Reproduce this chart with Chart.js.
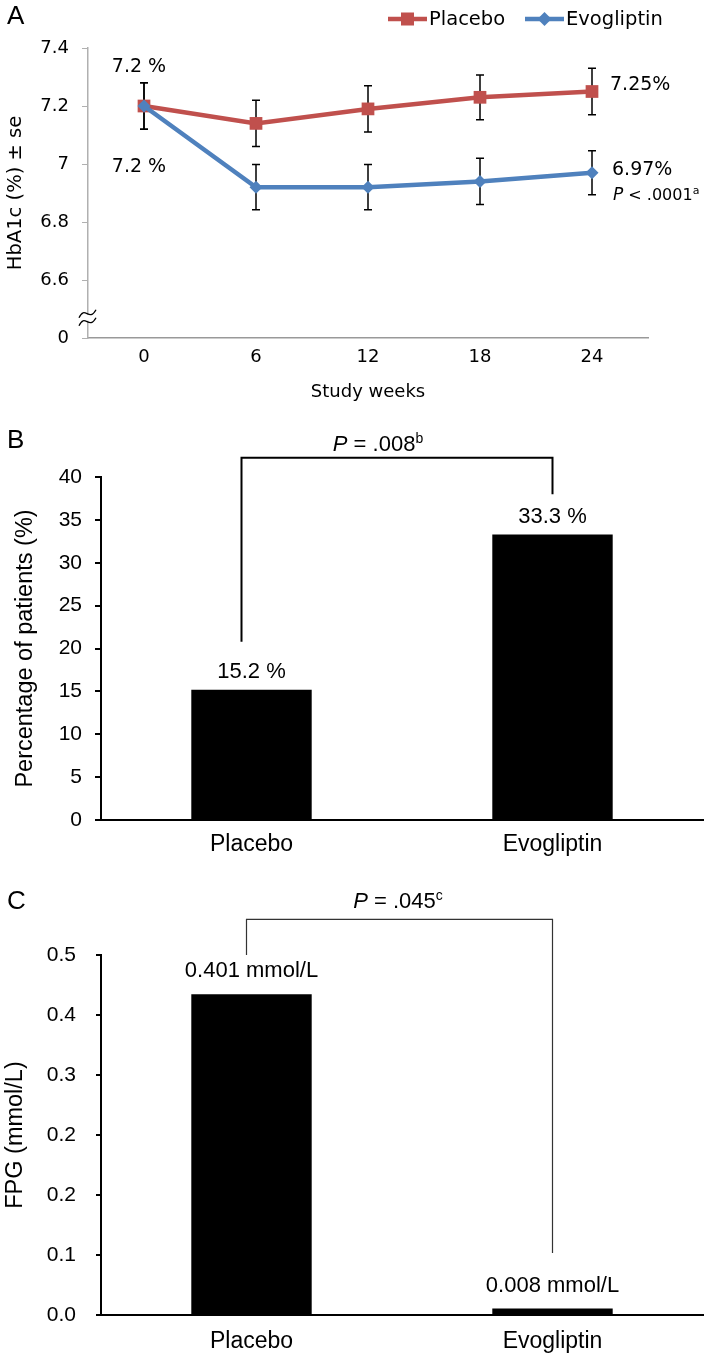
<!DOCTYPE html>
<html>
<head>
<meta charset="utf-8">
<script src="https://cdn.jsdelivr.net/npm/chart.js@4.4.0/dist/chart.umd.min.js"></script>
<style>
  html, body { margin: 0; padding: 0; background: #fff; }
  #wrap { position: relative; width: 709px; height: 1360px; }
  .panel { position: absolute; left: 0; width: 709px; }
</style>
</head>
<body>
<div id="wrap">
  <div class="panel" style="top:0;height:410px"><canvas id="chartA"></canvas></div>
  <div class="panel" style="top:410px;height:460px"><canvas id="chartB"></canvas></div>
  <div class="panel" style="top:870px;height:490px"><canvas id="chartC"></canvas></div>
</div>
<script>
// --- panel A: HbA1c over time
const weeks = ['0', '6', '12', '18', '24'];
const placeboHbA1c = [7.2, 7.14, 7.19, 7.23, 7.25];
const placeboSE = [0.08, 0.08, 0.08, 0.077, 0.08];
const evoHbA1c = [7.2, 6.92, 6.92, 6.94, 6.97];
const evoSE = [0.08, 0.078, 0.078, 0.08, 0.076];
const yTicksA = ['0', '6.6', '6.8', '7', '7.2', '7.4'];

// --- panel B: responders
const groups = ['Placebo', 'Evogliptin'];
const responderPct = [15.2, 33.3];
const responderLabels = ['15.2 %', '33.3 %'];

// --- panel C: FPG change
const fpgChange = [0.401, 0.008];
const fpgLabels = ['0.401 mmol/L', '0.008 mmol/L'];
const yTicksC = ['0.0', '0.1', '0.2', '0.2', '0.3', '0.4', '0.5'];

const red = '#C0504D';
const blue = '#4F81BD';
const fontA = '"DejaVu Sans", sans-serif';
const fontBC = '"Liberation Sans", Arial, sans-serif';

// draw a run of text pieces (for italic P and superscripts)
function drawRich(ctx, parts, x, y, align) {
  let w = 0;
  parts.forEach(p => { ctx.font = p.font; p.w = ctx.measureText(p.text).width; w += p.w; });
  let cx = align === 'center' ? x - w / 2 : x;
  ctx.textAlign = 'left';
  ctx.textBaseline = 'middle';
  parts.forEach(p => {
    ctx.font = p.font;
    ctx.fillText(p.text, cx, y + (p.dy || 0));
    cx += p.w;
  });
}

function panelLetter(ctx, letter, y) {
  ctx.save();
  ctx.fillStyle = '#000';
  ctx.font = '26px ' + fontBC;
  ctx.textAlign = 'left';
  ctx.textBaseline = 'middle';
  ctx.fillText(letter, 7, y);
  ctx.restore();
}

const panelAPlugin = {
  id: 'panelA',
  beforeDatasetsDraw(chart) {
    const ctx = chart.ctx, x = chart.scales.x, y = chart.scales.y;
    ctx.save();
    ctx.strokeStyle = '#000';
    ctx.lineWidth = 1.5;
    [[placeboHbA1c, placeboSE], [evoHbA1c, evoSE]].forEach(([vals, se]) => {
      vals.forEach((v, i) => {
        const px = x.getPixelForValue(i);
        const top = y.getPixelForValue(v + se[i]);
        const bot = y.getPixelForValue(v - se[i]);
        ctx.beginPath();
        ctx.moveTo(px, top); ctx.lineTo(px, bot);
        ctx.moveTo(px - 4, top); ctx.lineTo(px + 4, top);
        ctx.moveTo(px - 4, bot); ctx.lineTo(px + 4, bot);
        ctx.stroke();
      });
    });
    ctx.restore();
  },
  afterDraw(chart) {
    const ctx = chart.ctx, x = chart.scales.x, y = chart.scales.y;
    ctx.save();
    panelLetter(ctx, 'A', 17);

    // axis break
    const ax = chart.chartArea.left, yb = y.getPixelForValue(6.47);
    ctx.fillStyle = '#fff';
    ctx.fillRect(ax - 3, yb - 3, 6, 6);
    ctx.strokeStyle = '#000';
    ctx.lineWidth = 1.3;
    [-4, 4].forEach(d => {
      ctx.beginPath();
      ctx.moveTo(ax - 9, yb + d + 4);
      ctx.bezierCurveTo(ax - 3, yb + d - 9, ax + 1, yb + d + 9, ax + 8, yb + d - 4);
      ctx.stroke();
    });

    // legend
    const items = [
      { text: 'Placebo', color: red, diamond: false, x: 388 },
      { text: 'Evogliptin', color: blue, diamond: true, x: 525 }
    ];
    const ly = 19;
    items.forEach(it => {
      ctx.strokeStyle = it.color;
      ctx.fillStyle = it.color;
      ctx.lineWidth = 4.5;
      ctx.beginPath();
      ctx.moveTo(it.x, ly); ctx.lineTo(it.x + 39, ly);
      ctx.stroke();
      const mx = it.x + 19.5;
      if (it.diamond) {
        ctx.beginPath();
        ctx.moveTo(mx, ly - 7); ctx.lineTo(mx + 7, ly); ctx.lineTo(mx, ly + 7); ctx.lineTo(mx - 7, ly);
        ctx.closePath(); ctx.fill();
      } else {
        ctx.fillRect(mx - 6.5, ly - 6.5, 13, 13);
      }
      ctx.fillStyle = '#000';
      ctx.font = '19.5px ' + fontA;
      ctx.textAlign = 'left';
      ctx.textBaseline = 'middle';
      ctx.fillText(it.text, it.x + 41, ly + 1);
    });

    // value notes
    ctx.fillStyle = '#000';
    ctx.font = '19px ' + fontA;
    ctx.textBaseline = 'middle';
    ctx.textAlign = 'center';
    const x0 = x.getPixelForValue(0);
    ctx.fillText('7.2 %', x0 - 5, y.getPixelForValue(placeboHbA1c[0]) - 39);
    ctx.fillText('7.2 %', x0 - 5, y.getPixelForValue(evoHbA1c[0]) + 61);
    const xl = x.getPixelForValue(4) + 18;
    ctx.textAlign = 'left';
    ctx.fillText('7.25%', xl, y.getPixelForValue(placeboHbA1c[4]) - 6);
    ctx.fillText('6.97%', xl + 2, y.getPixelForValue(evoHbA1c[4]) - 3);
    drawRich(ctx, [
      { text: 'P', font: 'italic 17px ' + fontA },
      { text: ' < .0001', font: '16px ' + fontA },
      { text: 'a', font: '11px ' + fontA, dy: -5 }
    ], xl + 3, y.getPixelForValue(evoHbA1c[4]) + 23, 'left');
    ctx.restore();
  }
};

new Chart(document.getElementById('chartA'), {
  type: 'line',
  data: {
    labels: weeks,
    datasets: [
      {
        label: 'Placebo', data: placeboHbA1c, borderColor: red, backgroundColor: red,
        borderWidth: 4.5, pointStyle: 'rect', pointRadius: 9, pointBorderWidth: 0,
        tension: 0, order: 2
      },
      {
        label: 'Evogliptin', data: evoHbA1c, borderColor: blue, backgroundColor: blue,
        borderWidth: 4.5, pointStyle: 'rectRot', pointRadius: 6.5, pointBorderWidth: 0,
        tension: 0, order: 1
      }
    ]
  },
  options: {
    responsive: true,
    maintainAspectRatio: false,
    animation: false,
    layout: { padding: { top: 48, right: 61, left: 0, bottom: 0 } },
    plugins: { legend: { display: false }, tooltip: { enabled: false } },
    scales: {
      x: {
        offset: true,
        grid: { display: false, drawTicks: false },
        border: { color: '#999', width: 1.5 },
        ticks: { color: '#000', font: { family: fontA, size: 18 }, padding: 9 },
        title: {
          display: true, text: 'Study weeks', color: '#000',
          font: { family: fontA, size: 18 }, padding: { top: 0, bottom: 7 }
        },
        afterFit: s => { s.height = 72; }
      },
      y: {
        min: 6.4, max: 7.4,
        ticks: {
          stepSize: 0.2, color: '#000', font: { family: fontA, size: 18 }, padding: 13,
          callback: (v, i) => yTicksA[i]
        },
        grid: { drawOnChartArea: false, drawTicks: true, tickLength: 6, color: '#b0b0b0' },
        border: { color: '#b0b0b0', width: 1.5 },
        title: {
          display: true, text: 'HbA1c (%) ± se', color: '#000',
          font: { family: fontA, size: 19.5 }, padding: { top: 4, bottom: 0 }
        },
        afterFit: s => { s.width = 88; }
      }
    }
  },
  plugins: [panelAPlugin]
});

// bracket + labels for the bar panels
function barPanelPlugin(id, opts) {
  return {
    id: id,
    afterDatasetsDraw(chart) {
      const ctx = chart.ctx, x = chart.scales.x, y = chart.scales.y;
      const meta = chart.getDatasetMeta(0);
      ctx.save();
      ctx.fillStyle = '#000';
      ctx.font = '22px ' + fontBC;
      ctx.textAlign = 'center';
      ctx.textBaseline = 'middle';
      meta.data.forEach((bar, i) => {
        ctx.fillText(opts.labels[i], bar.x, bar.y - opts.labelGap);
      });

      const lx = x.getPixelForValue(0) + opts.leftShift, rx = x.getPixelForValue(1);
      const top = y.getPixelForValue(opts.bracketTop);
      ctx.strokeStyle = opts.bracketColor;
      ctx.lineWidth = opts.bracketWidth;
      ctx.beginPath();
      ctx.moveTo(lx, y.getPixelForValue(opts.leftEnd));
      ctx.lineTo(lx, top);
      ctx.lineTo(rx, top);
      ctx.lineTo(rx, y.getPixelForValue(opts.rightEnd));
      ctx.stroke();

      ctx.fillStyle = '#000';
      drawRich(ctx, [
        { text: 'P', font: 'italic 22px ' + fontBC },
        { text: ' = ' + opts.p, font: '22px ' + fontBC },
        { text: opts.sup, font: '14px ' + fontBC, dy: -6 }
      ], opts.pX, opts.pY, 'center');
      panelLetter(ctx, opts.letter, opts.letterY);
      ctx.restore();
    }
  };
}

function barOptions(o) {
  return {
    responsive: true,
    maintainAspectRatio: false,
    animation: false,
    layout: { padding: { top: o.top, right: 6, left: 0, bottom: 0 } },
    plugins: { legend: { display: false }, tooltip: { enabled: false } },
    scales: {
      x: {
        grid: { display: false, drawTicks: false },
        border: { color: '#000', width: 2 },
        ticks: { color: '#000', font: { family: fontBC, size: 23 }, padding: o.xPad },
        afterFit: s => { s.height = o.xHeight; }
      },
      y: {
        min: 0, max: o.max,
        ticks: {
          stepSize: o.step, color: '#000', font: { family: fontBC, size: 21 }, padding: o.yPad,
          callback: o.tickCb
        },
        grid: { drawOnChartArea: false, drawTicks: true, tickLength: o.tickLen, color: '#000', lineWidth: 2 },
        border: { color: '#000', width: 2 },
        title: {
          display: true, text: o.title, color: '#000',
          font: { family: fontBC, size: 23.5 }, padding: { top: o.titlePad, bottom: 0 }
        },
        afterFit: s => { s.width = 101; }
      }
    }
  };
}

new Chart(document.getElementById('chartB'), {
  type: 'bar',
  data: {
    labels: groups,
    datasets: [{
      data: responderPct, backgroundColor: '#000', borderWidth: 0,
      barPercentage: 0.4, categoryPercentage: 1
    }]
  },
  options: barOptions({
    top: 67, xHeight: 50, xPad: 11, max: 40, step: 5, yPad: 13, tickLen: 6,
    tickCb: v => v, title: 'Percentage of patients (%)', titlePad: 11
  }),
  plugins: [barPanelPlugin('panelB', {
    labels: responderLabels, labelGap: 18,
    leftShift: -10, bracketTop: 42.25, leftEnd: 20.8, rightEnd: 38.0,
    bracketColor: '#000', bracketWidth: 2,
    p: '.008', sup: 'b', pX: 378, pY: 35, letter: 'B', letterY: 31
  })]
});

new Chart(document.getElementById('chartC'), {
  type: 'bar',
  data: {
    labels: groups,
    datasets: [{
      data: fpgChange, backgroundColor: '#000', borderWidth: 0,
      barPercentage: 0.4, categoryPercentage: 1
    }]
  },
  options: barOptions({
    top: 85, xHeight: 45, xPad: 13, max: 0.45, step: 0.075, yPad: 20, tickLen: 5,
    tickCb: (v, i) => yTicksC[i], title: 'FPG (mmol/L)', titlePad: 1
  }),
  plugins: [barPanelPlugin('panelC', {
    labels: fpgLabels, labelGap: 23,
    leftShift: -5, bracketTop: 0.4946, leftEnd: 0.45, rightEnd: 0.0775,
    bracketColor: '#333', bracketWidth: 1.2,
    p: '.045', sup: 'c', pX: 398, pY: 32, letter: 'C', letterY: 32
  })]
});
</script>
</body>
</html>
